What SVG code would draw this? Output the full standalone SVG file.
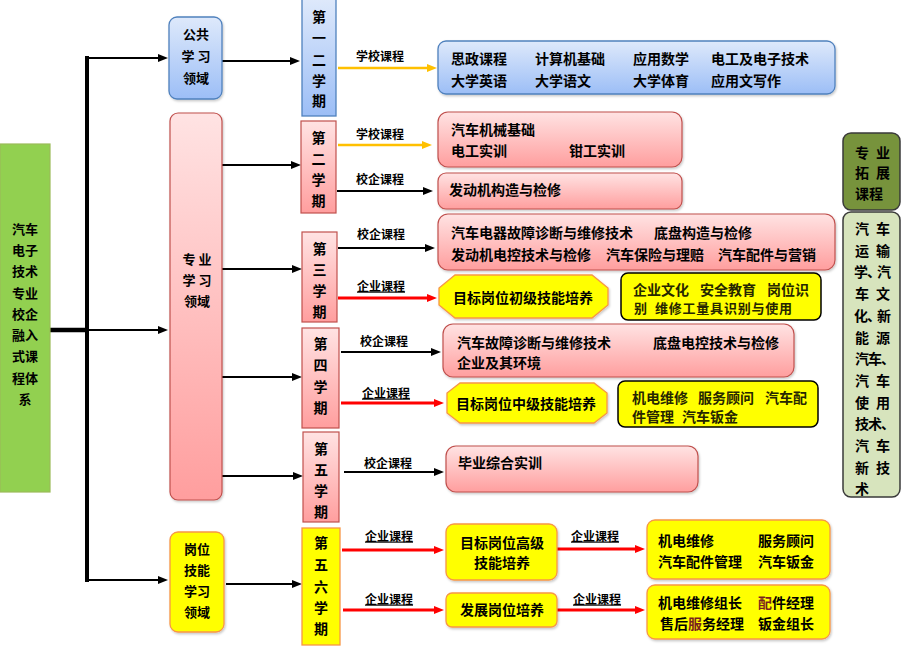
<svg xmlns="http://www.w3.org/2000/svg" width="903" height="648" viewBox="0 0 903 648">
<style>
.t{font-family:"Noto Sans CJK SC","Noto Sans CJK JP",sans-serif;font-weight:bold;dominant-baseline:central;fill:#000}
.s14{font-size:14px}.s13{font-size:13px}.s12{font-size:12px}
.m{text-anchor:middle}
.u{text-decoration:underline}
.ol{fill:#262600}
.blue{fill:url(#gBlue);stroke:#4F81BD;stroke-width:1.3}
.red{fill:url(#gRed);stroke:#C0504D;stroke-width:1.2}
.yel{fill:#FFFF00;stroke:#F79646;stroke-width:1.3}
.yelk{fill:#FFFF00;stroke:#000;stroke-width:1.5}
.sh{filter:url(#sh)}
.cb{fill:none;stroke:#000;stroke-width:2.2;marker-end:url(#aB)}
.co{fill:none;stroke:#FFC000;stroke-width:2.5;marker-end:url(#aO)}
.cr{fill:none;stroke:#FF0000;stroke-width:2.8;marker-end:url(#aR)}
</style>
<defs>
<linearGradient id="gBlue" x1="0" y1="0" x2="0" y2="1"><stop offset="0" stop-color="#DEE9FB"/><stop offset="1" stop-color="#9CBEF6"/></linearGradient>
<linearGradient id="gRed" x1="0" y1="0" x2="0" y2="1"><stop offset="0" stop-color="#FFE3E3"/><stop offset="1" stop-color="#FF9E9E"/></linearGradient>
<filter id="sh" x="-10%" y="-10%" width="125%" height="130%"><feDropShadow dx="1" dy="1.5" stdDeviation="1" flood-color="#000" flood-opacity="0.22"/></filter>
<marker id="aB" markerUnits="userSpaceOnUse" markerWidth="10" markerHeight="8" refX="4" refY="4" orient="auto"><path d="M0,0 L10,4 L0,8 z" fill="#000"/></marker>
<marker id="aO" markerUnits="userSpaceOnUse" markerWidth="10" markerHeight="8" refX="4" refY="4" orient="auto"><path d="M0,0 L10,4 L0,8 z" fill="#FFC000"/></marker>
<marker id="aR" markerUnits="userSpaceOnUse" markerWidth="10" markerHeight="8" refX="4" refY="4" orient="auto"><path d="M0,0 L10,4 L0,8 z" fill="#FF0000"/></marker>
</defs>
<rect width="903" height="648" fill="#fff"/>

<g id="connectors">
<path d="M87,56 V582" stroke="#000" stroke-width="4" fill="none"/>
<path d="M50,330 H89" stroke="#000" stroke-width="4.5" fill="none"/>
<path class="cb" d="M87,58 H162"/>
<path class="cb" d="M89,330 H162"/>
<path class="cb" d="M87,580 H162"/>
<path class="cb" d="M222,61 H294"/>
<path class="cb" d="M222,165 H295"/>
<path class="cb" d="M222,269 H296"/>
<path class="cb" d="M222,377 H296"/>
<path class="cb" d="M222,476 H297"/>
<path class="cb" d="M226,584 H296"/>
<path class="co" d="M338,68 H431"/>
<path class="co" d="M338,145 H426"/>
<path class="cb" d="M337,191 H427"/>
<path class="cb" d="M338,248 H429"/>
<path class="cr" d="M338,298 H431"/>
<path class="cb" d="M341,352 H435"/>
<path class="cr" d="M341,403 H438"/>
<path class="cb" d="M344,472 H438"/>
<path class="cr" d="M342,550 H438"/>
<path class="cr" d="M343,610 H438"/>
<path class="cr" d="M557,549 H639"/>
<path class="cr" d="M557,610 H639"/>
<text class="t s12 m" x="380" y="55">学校课程</text>
<text class="t s12 m" x="380" y="133">学校课程</text>
<text class="t s12 m" x="380" y="178">校企课程</text>
<text class="t s12 m" x="381" y="233">校企课程</text>
<text class="t s12 m u" x="381" y="285">企业课程</text>
<text class="t s12 m" x="384" y="340">校企课程</text>
<text class="t s12 m u" x="386" y="392">企业课程</text>
<text class="t s12 m" x="388" y="462">校企课程</text>
<text class="t s12 m u" x="389" y="535">企业课程</text>
<text class="t s12 m u" x="389" y="598">企业课程</text>
<text class="t s12 m u" x="595" y="535">企业课程</text>
<text class="t s12 m u" x="597" y="598">企业课程</text>
</g>

<g id="root">
<rect x="0" y="144" width="50" height="348" fill="#92D050" stroke="#9BBB59" stroke-width="1.2"/>
<text class="t s13 m" x="25" y="228">汽车</text>
<text class="t s13 m" x="25" y="249">电子</text>
<text class="t s13 m" x="25" y="270">技术</text>
<text class="t s13 m" x="25" y="292">专业</text>
<text class="t s13 m" x="25" y="313">校企</text>
<text class="t s13 m" x="25" y="334">融入</text>
<text class="t s13 m" x="25" y="355">式课</text>
<text class="t s13 m" x="25" y="377">程体</text>
<text class="t s13 m" x="25" y="398">系</text>
</g>

<g id="area-public">
<rect class="blue sh" x="169" y="17" width="53" height="82" rx="8"/>
<text class="t s13 m" x="196" y="33">公共</text>
<text class="t s13 m" x="196" y="55">学 习</text>
<text class="t s13 m" x="196" y="77">领域</text>
</g>

<g id="area-major">
<rect class="red sh" x="170" y="113" width="52" height="387" rx="8"/>
<text class="t s13 m" x="197" y="258">专 业</text>
<text class="t s13 m" x="197" y="279">学 习</text>
<text class="t s13 m" x="197" y="300">领域</text>
</g>

<g id="area-post">
<rect class="yel sh" x="170" y="532" width="54" height="100" rx="8"/>
<text class="t s13 m" x="197" y="548">岗位</text>
<text class="t s13 m" x="197" y="569">技能</text>
<text class="t s13 m" x="197" y="590">学习</text>
<text class="t s13 m" x="197" y="611">领域</text>
</g>

<g id="term-1-2">
<rect class="blue" x="302" y="-1" width="34" height="117"/>
<text class="t s14 m" x="319" y="16">第</text>
<text class="t s14 m" x="319" y="37">一</text>
<text class="t s14 m" x="319" y="59">二</text>
<text class="t s14 m" x="319" y="80">学</text>
<text class="t s14 m" x="319" y="100">期</text>
</g>

<g id="term-2">
<rect class="red" x="301" y="121" width="35" height="92"/>
<text class="t s14 m" x="318.5" y="137">第</text>
<text class="t s14 m" x="318.5" y="158">二</text>
<text class="t s14 m" x="318.5" y="179">学</text>
<text class="t s14 m" x="318.5" y="200">期</text>
</g>

<g id="term-3">
<rect class="red" x="302" y="232" width="35" height="90"/>
<text class="t s14 m" x="319.5" y="248">第</text>
<text class="t s14 m" x="319.5" y="269">三</text>
<text class="t s14 m" x="319.5" y="290">学</text>
<text class="t s14 m" x="319.5" y="311">期</text>
</g>

<g id="term-4">
<rect class="red" x="302" y="328" width="37" height="100"/>
<text class="t s14 m" x="320.5" y="343">第</text>
<text class="t s14 m" x="320.5" y="364">四</text>
<text class="t s14 m" x="320.5" y="386">学</text>
<text class="t s14 m" x="320.5" y="407">期</text>
</g>

<g id="term-5">
<rect class="red" x="303" y="432" width="36" height="90"/>
<text class="t s14 m" x="321" y="448">第</text>
<text class="t s14 m" x="321" y="469">五</text>
<text class="t s14 m" x="321" y="490">学</text>
<text class="t s14 m" x="321" y="511">期</text>
</g>

<g id="term-5-6">
<rect class="yel" x="302" y="528" width="38" height="117"/>
<text class="t s14 m" x="321" y="542">第</text>
<text class="t s14 m" x="321" y="564">五</text>
<text class="t s14 m" x="321" y="586">六</text>
<text class="t s14 m" x="321" y="607">学</text>
<text class="t s14 m" x="321" y="628">期</text>
</g>

<g id="courses-public">
<rect class="blue sh" x="438" y="41" width="397" height="53" rx="8"/>
<text class="t s14" x="451" y="58">思政课程</text>
<text class="t s14" x="535" y="58">计算机基础</text>
<text class="t s14" x="633" y="58">应用数学</text>
<text class="t s14" x="711" y="58">电工及电子技术</text>
<text class="t s14" x="451" y="80">大学英语</text>
<text class="t s14" x="535" y="80">大学语文</text>
<text class="t s14" x="633" y="80">大学体育</text>
<text class="t s14" x="711" y="80">应用文写作</text>
</g>

<g id="courses-term2-school">
<rect class="red sh" x="438" y="112" width="244" height="55" rx="10"/>
<text class="t s14" x="451" y="129">汽车机械基础</text>
<text class="t s14" x="451" y="150">电工实训</text>
<text class="t s14" x="569" y="150">钳工实训</text>
</g>

<g id="courses-term2-joint">
<rect class="red sh" x="438" y="173" width="244" height="36" rx="8"/>
<text class="t s14" x="449" y="189">发动机构造与检修</text>
</g>

<g id="courses-term3-joint">
<rect class="red sh" x="438" y="214" width="397" height="56" rx="10"/>
<text class="t s14" x="451" y="232">汽车电器故障诊断与维修技术</text>
<text class="t s14" x="654" y="232">底盘构造与检修</text>
<text class="t s14" x="451" y="254">发动机电控技术与检修</text>
<text class="t s14" x="606" y="254">汽车保险与理赔</text>
<text class="t s14" x="718" y="254">汽车配件与营销</text>
</g>

<g id="skill-basic">
<polygon class="yel sh" points="455,275 592,275 608,288 608,305 592,318 455,318 439,305 439,288"/>
<text class="t s14 m" x="523" y="297">目标岗位初级技能培养</text>
</g>

<g id="jobs-basic">
<rect class="yelk" x="621" y="273" width="200" height="47" rx="7"/>
<text class="t s14 ol" x="633" y="289">企业文化</text>
<text class="t s14 ol" x="700" y="289">安全教育</text>
<text class="t s14 ol" x="767" y="289">岗位识</text>
<text class="t s13 ol" x="634" y="307">别</text>
<text class="t s13 ol" x="655" y="307" textLength="137" lengthAdjust="spacing">维修工量具识别与使用</text>
</g>

<g id="courses-term4-joint">
<rect class="red sh" x="443" y="324" width="351" height="53" rx="10"/>
<text class="t s14" x="457" y="342">汽车故障诊断与维修技术</text>
<text class="t s14" x="653" y="342">底盘电控技术与检修</text>
<text class="t s14" x="457" y="362">企业及其环境</text>
</g>

<g id="skill-middle">
<polygon class="yel sh" points="460,383 594,383 607,393 607,413 594,423 460,423 447,413 447,393"/>
<text class="t s14 m" x="526" y="403">目标岗位中级技能培养</text>
</g>

<g id="jobs-middle">
<rect class="yelk" x="618" y="381" width="200" height="46" rx="7"/>
<text class="t s14 ol" x="632" y="397">机电维修</text>
<text class="t s14 ol" x="698" y="397">服务顾问</text>
<text class="t s14 ol" x="765" y="397">汽车配</text>
<text class="t s14 ol" x="632" y="416">件管理</text>
<text class="t s14 ol" x="682" y="416">汽车钣金</text>
</g>

<g id="courses-term5-joint">
<rect class="red sh" x="446" y="446" width="252" height="46" rx="10"/>
<text class="t s14" x="458" y="462">毕业综合实训</text>
</g>

<g id="skill-high">
<rect class="yel sh" x="446" y="524" width="111" height="56" rx="8"/>
<text class="t s14 m" x="502" y="542">目标岗位高级</text>
<text class="t s14 m" x="502" y="562">技能培养</text>
</g>

<g id="skill-develop">
<rect class="yel sh" x="446" y="593" width="111" height="34" rx="6"/>
<text class="t s14 m" x="502" y="609">发展岗位培养</text>
</g>

<g id="jobs-high">
<rect class="yel sh" x="647" y="520" width="183" height="59" rx="8"/>
<text class="t s14" x="658" y="540">机电维修</text>
<text class="t s14" x="758" y="540">服务顾问</text>
<text class="t s14" x="658" y="561">汽车配件管理</text>
<text class="t s14" x="758" y="561">汽车钣金</text>
</g>

<g id="jobs-develop">
<rect class="yel sh" x="647" y="585" width="183" height="54" rx="8"/>
<text class="t s14" x="658" y="602">机电维修组长</text>
<text class="t s14" x="758" y="602"><tspan fill="#7a1f1f">配</tspan>件经理</text>
<text class="t s14" x="660" y="623">售后<tspan fill="#7a1f1f">服</tspan>务经理</text>
<text class="t s14" x="758" y="623">钣金组长</text>
</g>

<g id="ext-title">
<rect x="843" y="133" width="57" height="77" rx="8" fill="#77933C" stroke="#3a3a3a" stroke-width="1.5"/>
<text class="t s14" x="855 876" y="152">专业</text>
<text class="t s14" x="855 876" y="172">拓展</text>
<text class="t s14" x="855" y="193">课程</text>
</g>

<g id="ext-courses">
<rect x="843" y="212" width="57" height="285" rx="8" fill="#D7E4BD" stroke="#3a3a3a" stroke-width="1.5"/>
<text class="t s14" x="855 876" y="228">汽车</text>
<text class="t s14" x="855 876" y="250">运输</text>
<text class="t s14" x="854 867 877" y="271">学、汽</text>
<text class="t s14" x="855 876" y="293">车文</text>
<text class="t s14" x="854 867 877" y="315">化、新</text>
<text class="t s14" x="855 876" y="337">能源</text>
<text class="t s14" x="855 868 881" y="358">汽车、</text>
<text class="t s14" x="855 876" y="380">汽车</text>
<text class="t s14" x="855 876" y="402">使用</text>
<text class="t s14" x="855 868 881" y="423">技术、</text>
<text class="t s14" x="855 876" y="445">汽车</text>
<text class="t s14" x="855 876" y="467">新技</text>
<text class="t s14" x="855" y="488">术</text>
</g>
</svg>
